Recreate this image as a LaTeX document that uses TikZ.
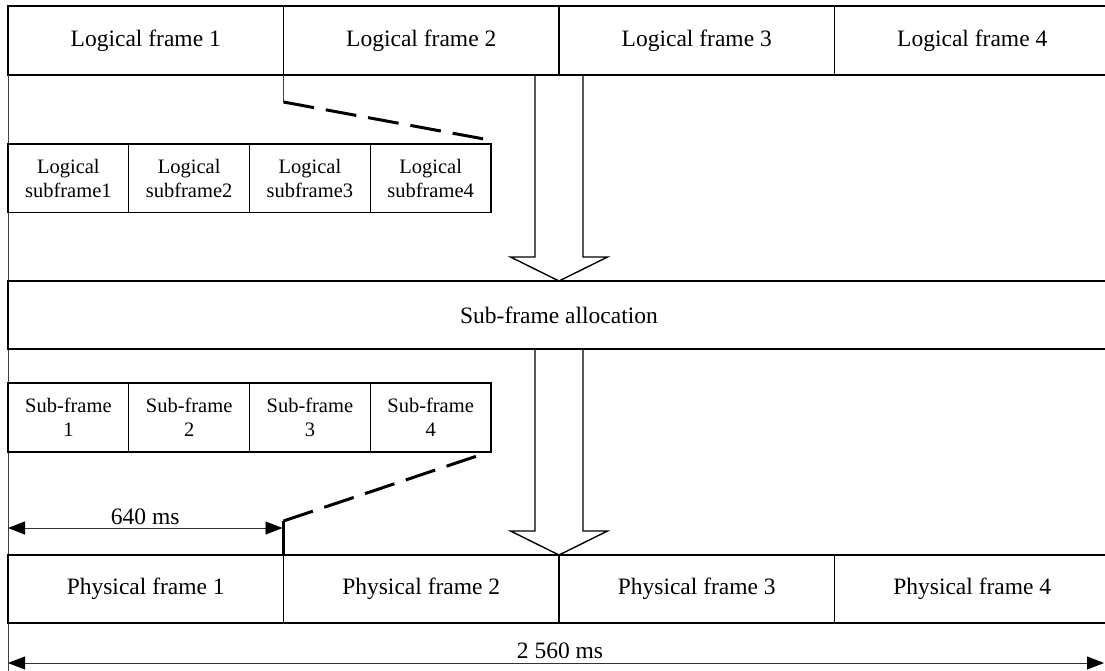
\documentclass[tikz,border=0pt]{standalone}
\usepackage{fontspec}
\setmainfont{Liberation Serif}
\usetikzlibrary{calc,arrows.meta}
\begin{document}
\begin{tikzpicture}[x=1pt,y=-1pt,
  box/.style={draw, line width=1.4pt, inner sep=0pt, outer sep=0pt, anchor=north west, font=\fontsize{23.5}{28}\selectfont},
  bigbox/.style={box, minimum width=275.5pt, minimum height=69pt},
  smallbox/.style={box, minimum width=120.75pt, minimum height=68.5pt, align=center, font=\fontsize{20.5}{24.5}\selectfont},
  bigarrow/.style={line width=1.4pt, line join=miter},
  thinline/.style={line width=0.9pt, draw=black!75},
  dashedlink/.style={line width=3pt, dash pattern=on 31pt off 12pt},
  dim/.style={line width=0.9pt, draw=black!80, {Triangle[length=17pt,width=13pt,fill=black,color=black]}-{Triangle[length=17pt,width=13pt,fill=black,color=black]}},
  lbl/.style={font=\fontsize{23.5}{28}\selectfont, inner sep=0pt, anchor=base}
]
\useasboundingbox (0,0) rectangle (1105,671);
\clip (0,0) rectangle (1105,671);

% left guide line
\coordinate (bot) at (8,671);

% top row
\node[bigbox] (lf1) at (8,6) {Logical frame 1};
\node[bigbox] (lf2) at (lf1.north east) {Logical frame 2};
\node[bigbox] (lf3) at (lf2.north east) {Logical frame 3};
\node[bigbox] (lf4) at (lf3.north east) {Logical frame 4};

\draw[thinline] (lf1.south west) -- (bot);

% logical subframes
\node[smallbox] (ls1) at (8,144) {Logical\\subframe1};
\node[smallbox] (ls2) at (ls1.north east) {Logical\\subframe2};
\node[smallbox] (ls3) at (ls2.north east) {Logical\\subframe3};
\node[smallbox] (ls4) at (ls3.north east) {Logical\\subframe4};

% allocation
\node[box, minimum width=1102pt, minimum height=68pt] (alloc) at (8,281) {Sub-frame allocation};

% sub-frames
\node[smallbox, minimum height=69pt] (sf1) at (8,383) {Sub-frame\\1};
\node[smallbox, minimum height=69pt] (sf2) at (sf1.north east) {Sub-frame\\2};
\node[smallbox, minimum height=69pt] (sf3) at (sf2.north east) {Sub-frame\\3};
\node[smallbox, minimum height=69pt] (sf4) at (sf3.north east) {Sub-frame\\4};

% physical frames
\node[bigbox, minimum height=68pt] (pf1) at (8,555) {Physical frame 1};
\node[bigbox, minimum height=68pt] (pf2) at (pf1.north east) {Physical frame 2};
\node[bigbox, minimum height=68pt] (pf3) at (pf2.north east) {Physical frame 3};
\node[bigbox, minimum height=68pt] (pf4) at (pf3.north east) {Physical frame 4};

% big hollow arrows
\coordinate (t1) at (lf2.south east |- alloc.north);
\draw[bigarrow] ($(t1 |- lf2.south)+(-24,0)$) -- ($(t1)+(-24,-24)$) -- ($(t1)+(-48.5,-24)$) -- (t1)
  -- ($(t1)+(48.5,-24)$) -- ($(t1)+(24,-24)$) -- ($(t1 |- lf2.south)+(24,0)$);
\coordinate (t2) at (lf2.south east |- pf2.north);
\draw[bigarrow] ($(t2 |- alloc.south)+(-24,0)$) -- ($(t2)+(-24,-24)$) -- ($(t2)+(-48.5,-24)$) -- (t2)
  -- ($(t2)+(48.5,-24)$) -- ($(t2)+(24,-24)$) -- ($(t2 |- alloc.south)+(24,0)$);

% zoom link 1
\coordinate (d1a) at ($(lf1.south east)+(0,27)$);
\coordinate (d1b) at ($(ls4.north east)+(-7,-5)$);
\draw[thinline] (lf1.south east) -- (d1a);
\draw[dashedlink] (d1a) -- (d1b);

% zoom link 2
\coordinate (d2a) at ($(sf4.south east)+(-14,4)$);
\coordinate (d2b) at ($(pf1.north east)+(0,-34)$);
\draw[dashedlink] (d2b) -- (d2a);
\draw[line width=3pt] (d2b) -- (pf1.north east);

% 640 ms
\coordinate (m1l) at ($(pf1.north west)+(0,-27)$);
\coordinate (m1r) at ($(pf1.north east)+(-1,-27)$);
\draw[dim] (m1l) -- (m1r);
\node[lbl] (m1t) at ($(m1l)!0.5!(m1r)+(0,-4)$) {640 ms};

% 2 560 ms
\coordinate (m2l) at ($(pf1.south west)+(0,40)$);
\coordinate (m2r) at (1104,663);
\draw[dim] (m2l) -- (m2r);
\node[lbl] (m2t) at (560,658) {2 560 ms};
\end{tikzpicture}
\end{document}
